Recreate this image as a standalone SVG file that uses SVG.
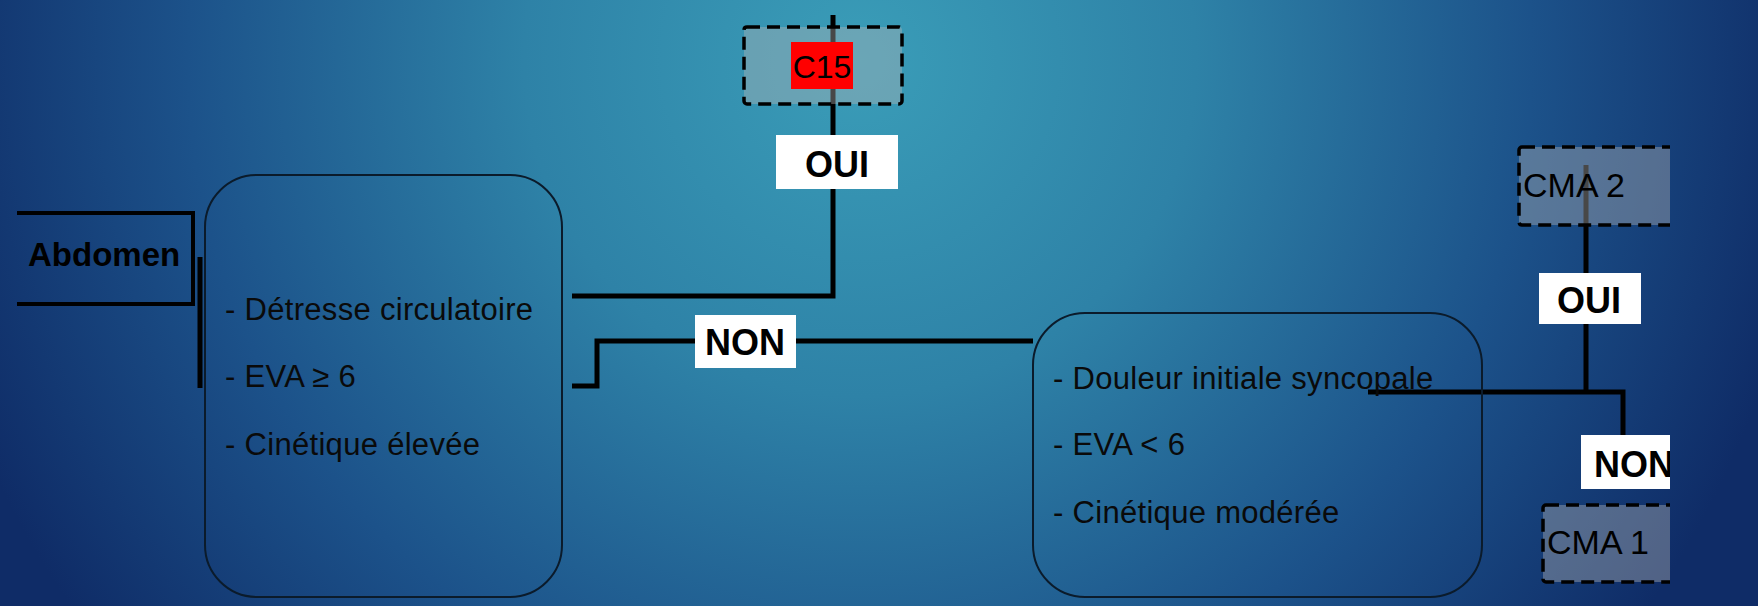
<svg xmlns="http://www.w3.org/2000/svg" width="1758" height="606" viewBox="0 0 1758 606">
<defs>
<radialGradient id="bg" gradientUnits="userSpaceOnUse" cx="860" cy="60" r="960">
<stop offset="0" stop-color="#3a9db8"/>
<stop offset="0.35" stop-color="#2e82a7"/>
<stop offset="0.7" stop-color="#1c528a"/>
<stop offset="1" stop-color="#0f2c67"/>
</radialGradient>
<clipPath id="clipR"><rect x="0" y="0" width="1670" height="606"/></clipPath>
<style>
.conn{fill:none;stroke:#000;stroke-width:5;stroke-linejoin:miter}
.thin{fill:none;stroke:#000;stroke-width:4}
.rbox{fill:none;stroke:#0b1b2b;stroke-width:2}
.dash{fill:#b4b4b4;fill-opacity:0.4;stroke:#000;stroke-width:3.5;stroke-dasharray:13 7}
.lbl{fill:#fff}
.bold{font-family:"Liberation Sans",Arial,sans-serif;font-weight:bold;fill:#000}
.reg{font-family:"Liberation Sans",Arial,sans-serif;fill:#000}
.item{font-family:"Liberation Sans",Arial,sans-serif;font-size:31px;letter-spacing:0.3px;fill:#0a0a0a}
</style>
</defs>
<rect x="0" y="0" width="1758" height="606" fill="url(#bg)"/>

<g id="connectors">
<path class="conn" d="M572 296 H833 V15"/>
<path class="conn" d="M572 386 H597 V341 H1033"/>
<path class="conn" d="M1368 392 H1623 V435"/>
<path class="conn" d="M1586 392 V165"/>
<path class="thin" d="M17 213 H193 V304 H17"/>
<path class="conn" d="M200 257 V388"/>
</g>

<g id="abdomen">
<text class="bold" x="28" y="266" font-size="33">Abdomen</text>
</g>

<g id="criteres-graves">
<rect class="rbox" x="205" y="175" width="357" height="422" rx="52" ry="52"/>
<text class="item" x="225" y="320">- Détresse circulatoire</text>
<text class="item" x="225" y="387">- EVA ≥ 6</text>
<text class="item" x="225" y="455">- Cinétique élevée</text>
</g>

<g id="criteres-moderes">
<rect class="rbox" x="1033" y="313" width="449" height="284" rx="52" ry="52"/>
<text class="item" x="1053" y="389">- Douleur initiale syncopale</text>
<text class="item" x="1053" y="455">- EVA &lt; 6</text>
<text class="item" x="1053" y="523">- Cinétique modérée</text>
</g>

<g id="c15">
<rect class="dash" x="744" y="27" width="158" height="77" rx="3"/>
<rect x="791" y="42" width="62" height="47" fill="#ff0000"/>
<text class="reg" x="822" y="78" font-size="32" text-anchor="middle">C15</text>
</g>

<g id="oui-1">
<rect class="lbl" x="776" y="135" width="122" height="54"/>
<text class="bold" x="837" y="177" font-size="36" text-anchor="middle">OUI</text>
</g>

<g id="non-1">
<rect class="lbl" x="695" y="315" width="101" height="53"/>
<text class="bold" x="745" y="355" font-size="36" text-anchor="middle">NON</text>
</g>

<g id="oui-2">
<rect class="lbl" x="1539" y="273" width="102" height="51"/>
<text class="bold" x="1589" y="313" font-size="36" text-anchor="middle">OUI</text>
</g>

<g clip-path="url(#clipR)">
<g id="cma2">
<rect class="dash" x="1519" y="147" width="160" height="78" rx="3"/>
<text class="reg" x="1523" y="197" font-size="34">CMA 2</text>
</g>
<g id="non-2">
<rect class="lbl" x="1581" y="435" width="100" height="54"/>
<text class="bold" x="1594" y="477" font-size="36">NON</text>
</g>
<g id="cma1">
<rect class="dash" x="1543" y="505" width="140" height="77" rx="3"/>
<text class="reg" x="1547" y="554" font-size="34">CMA 1</text>
</g>
</g>
</svg>
